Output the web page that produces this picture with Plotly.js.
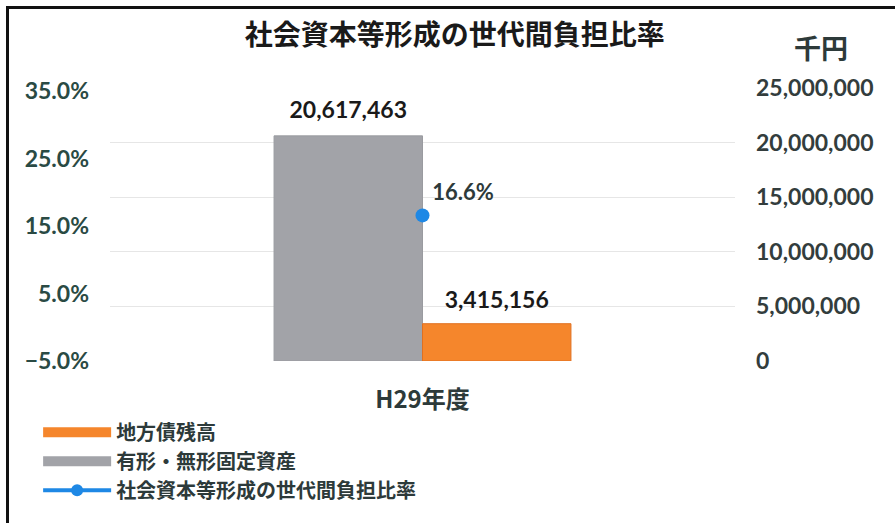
<!DOCTYPE html>
<html>
<head>
<meta charset="utf-8">
<script src="https://cdn.plot.ly/plotly-3.0.1.min.js"></script>
<style>
  html, body { margin: 0; padding: 0; background: #fff; }
  #wrap { position: relative; width: 895px; height: 523px; overflow: hidden; }
  #chart { position: absolute; left: 0; top: 0; width: 895px; height: 523px; }
  #frame { position: absolute; left: 6px; top: 6px; width: 895px; height: 514px;
           border-left: 3px solid #111; border-top: 3px solid #111; border-bottom: 2px solid #777;
           pointer-events: none; }
</style>
</head>
<body>
<div id="wrap">
  <div id="chart"></div>
  <div id="frame"></div>
</div>
<script>
const categories = ['H29年度'];
const fixedAssets = [20617463];      // 有形・無形固定資産 (千円)
const localBonds = [3415156];        // 地方債残高 (千円)
const burdenRatio = [0.166];         // 社会資本等形成の世代間負担比率
const nameBonds = '地方債残高';
const nameAssets = '有形・無形固定資産';
const nameRatio = '社会資本等形成の世代間負担比率';
const pctTicks = [-0.05, 0.05, 0.15, 0.25, 0.35];
const yenTicks = [0, 5000000, 10000000, 15000000, 20000000, 25000000];

const numFont = "Lato, 'Noto Sans CJK JP', sans-serif";
const jpFont = "'Noto Sans CJK JP', Lato, sans-serif";
const gray = '#a2a3a8';
const orange = '#f5862c';
const blue = '#1e88e5';
const textDark = '#2d3a3a';
const fmt = v => v.toLocaleString('en-US');

const labelFont = { family: numFont, size: 23, weight: 'bold', color: '#1a1a1a' };

const traces = [
  {
    type: 'bar', x: categories, y: fixedAssets, name: nameAssets, showlegend: false,
    alignmentgroup: 'money', offsetgroup: 'assets',
    marker: { color: gray, line: { color: '#9a9ba0', width: 1 } },
    yaxis: 'y', hoverinfo: 'skip'
  },
  {
    type: 'bar', x: categories, y: localBonds, name: nameBonds, showlegend: false,
    alignmentgroup: 'money', offsetgroup: 'bonds',
    marker: { color: orange, line: { color: '#e07020', width: 1 } },
    yaxis: 'y', hoverinfo: 'skip'
  },
  // value labels, aligned with the grouped bars
  {
    type: 'scatter', mode: 'markers+text', x: categories, y: fixedAssets, orientation: 'v',
    alignmentgroup: 'money', offsetgroup: 'assets', showlegend: false, cliponaxis: false, yaxis: 'y',
    marker: { size: 17, opacity: 0 }, text: fixedAssets.map(fmt), textposition: 'top center',
    textfont: labelFont, hoverinfo: 'skip'
  },
  {
    type: 'scatter', mode: 'markers+text', x: categories, y: localBonds, orientation: 'v',
    alignmentgroup: 'money', offsetgroup: 'bonds', showlegend: false, cliponaxis: false, yaxis: 'y',
    marker: { size: 15, opacity: 0 }, text: localBonds.map(fmt), textposition: 'top center',
    textfont: labelFont, hoverinfo: 'skip'
  },
  {
    type: 'scatter', mode: 'markers+text', x: categories, y: burdenRatio, name: nameRatio,
    alignmentgroup: 'ratio', offsetgroup: 'ratio', orientation: 'v',
    showlegend: false, yaxis: 'y2', cliponaxis: false,
    marker: { color: blue, size: 14 },
    text: burdenRatio.map(v => (v * 100).toFixed(1) + '%'), textposition: 'top right',
    textfont: { family: numFont, size: 22, weight: 'bold', color: textDark }
  },
  // legend entries
  { type: 'scatter', mode: 'lines', x: [null], y: [null], name: nameBonds, legendrank: 1,
    alignmentgroup: 'ratio', offsetgroup: 'ratio', line: { color: orange, width: 10 }, yaxis: 'y2' },
  { type: 'scatter', mode: 'lines', x: [null], y: [null], name: nameAssets, legendrank: 2,
    alignmentgroup: 'ratio', offsetgroup: 'ratio', line: { color: gray, width: 10 }, yaxis: 'y2' },
  { type: 'scatter', mode: 'lines+markers', x: [null], y: [null], name: nameRatio, legendrank: 3,
    alignmentgroup: 'ratio', offsetgroup: 'ratio', line: { color: blue, width: 4 },
    marker: { color: blue, size: 12 }, yaxis: 'y2' }
];

const layout = {
  width: 895, height: 523,
  margin: { l: 110, r: 160, t: 88, b: 162 },
  paper_bgcolor: '#ffffff', plot_bgcolor: '#ffffff',
  title: {
    text: '社会資本等形成の世代間負担比率',
    font: { family: jpFont, size: 28, weight: 'bold', color: '#1a1a1a' },
    x: 0.508, xanchor: 'center', y: 0.933, yanchor: 'middle'
  },
  barmode: 'group', bargap: 0.525, bargroupgap: 0,
  scattermode: 'group', scattergap: 0.525,
  xaxis: {
    type: 'category', showgrid: false, showline: false, zeroline: false,
    tickfont: { family: jpFont, size: 24, weight: 'bold', color: textDark },
    ticklabelstandoff: 22
  },
  yaxis: {
    side: 'right', range: [0, 25000000], tickvals: yenTicks, tickformat: ',',
    showgrid: true, gridcolor: '#e6e6e6', gridwidth: 1, zeroline: false, showline: false,
    tickfont: { family: numFont, size: 23, weight: 'bold', color: '#333d3d' },
    ticklabelstandoff: 20
  },
  yaxis2: {
    overlaying: 'y', side: 'left', range: [-0.05, 0.355], tickvals: pctTicks, tickformat: '.1%',
    showgrid: false, zeroline: false, showline: false,
    tickfont: { family: numFont, size: 23, weight: 'bold', color: '#2a4a44' },
    ticklabelstandoff: 20
  },
  legend: {
    orientation: 'v', x: -0.115, xanchor: 'left', y: -0.545, yanchor: 'bottom',
    font: { family: jpFont, size: 20, weight: 'bold', color: textDark },
    itemwidth: 68, bgcolor: 'rgba(0,0,0,0)', tracegroupgap: 0
  },
  annotations: [
    { text: '千円', xref: 'paper', yref: 'paper', x: 1.1376, y: 1.15, xanchor: 'center', yanchor: 'middle',
      showarrow: false, font: { family: jpFont, size: 27, weight: 'bold', color: textDark } }
  ],
  showlegend: true
};

Plotly.newPlot('chart', traces, layout, { displayModeBar: false, staticPlot: true });
</script>
</body>
</html>
